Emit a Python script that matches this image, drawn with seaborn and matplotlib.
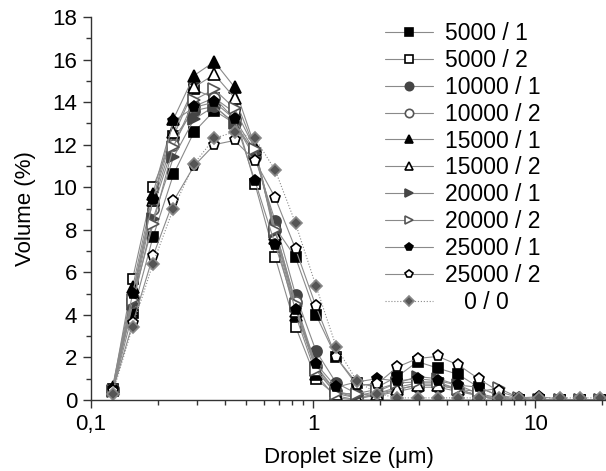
import numpy as np
import pandas as pd
import matplotlib
matplotlib.use("Agg")
import matplotlib.pyplot as plt
import seaborn as sns
from matplotlib.ticker import FixedLocator, FixedFormatter, NullFormatter

sns.set_style("ticks")
plt.rcParams['font.family'] = ['Liberation Sans', 'DejaVu Sans']
plt.rcParams['text.color'] = 'black'
plt.rcParams['axes.labelcolor'] = 'black'
plt.rcParams['xtick.color'] = 'black'
plt.rcParams['ytick.color'] = 'black'

sizes = [0.125, 0.154, 0.190, 0.235, 0.291, 0.359, 0.443, 0.547, 0.675, 0.833,
         1.03, 1.27, 1.57, 1.94, 2.39, 2.95, 3.64, 4.50, 5.55, 6.85,
         8.46, 10.4, 12.9, 15.9, 19.6]

labels = ["5000 / 1", "5000 / 2", "10000 / 1", "10000 / 2", "15000 / 1", "15000 / 2",
          "20000 / 1", "20000 / 2", "25000 / 1", "25000 / 2", "0 / 0"]

v_5000_1 = [0.4, 4.1, 7.65, 10.6, 12.6, 13.6, 13.0, 11.6, 8.1, 6.7, 4.0, 2.0, 0.8, 0.6, 1.1, 1.8, 1.5, 1.2, 0.6, 0.2, 0.0, 0.0, 0.0, 0.0, 0.0]
v_5000_2 = [0.5, 5.7, 10.0, 12.4, 14.6, 14.2, 13.5, 10.15, 6.7, 3.45, 1.0, 0.2, 0.0, 0.3, 0.6, 0.8, 0.8, 0.5, 0.2, 0.0, 0.0, 0.0, 0.0, 0.0, 0.0]
v_10000_1 = [0.5, 4.8, 9.2, 12.3, 13.6, 13.8, 13.0, 11.4, 8.4, 4.95, 2.3, 0.8, 0.3, 0.2, 0.4, 0.6, 0.6, 0.4, 0.2, 0.1, 0.0, 0.0, 0.0, 0.0, 0.0]
v_10000_2 = [0.5, 4.6, 9.0, 12.0, 13.8, 14.2, 13.2, 11.7, 8.0, 4.6, 1.6, 0.4, 0.1, 0.2, 0.5, 0.7, 0.7, 0.5, 0.2, 0.0, 0.0, 0.0, 0.0, 0.0, 0.0]
v_15000_1 = [0.6, 5.3, 9.7, 13.2, 15.25, 15.9, 14.7, 11.9, 7.6, 4.0, 1.2, 0.1, 0.0, 0.0, 0.0, 0.0, 0.0, 0.0, 0.0, 0.0, 0.0, 0.0, 0.0, 0.0, 0.0]
v_15000_2 = [0.5, 5.0, 9.4, 12.6, 14.7, 15.3, 14.2, 11.8, 7.8, 4.2, 1.4, 0.3, 0.1, 0.3, 0.5, 0.7, 0.7, 0.5, 0.2, 0.0, 0.0, 0.0, 0.0, 0.0, 0.0]
v_20000_1 = [0.4, 4.5, 8.5, 11.4, 13.2, 13.8, 13.0, 11.6, 7.9, 4.4, 1.5, 0.4, 0.2, 0.4, 0.8, 1.1, 1.0, 0.7, 0.3, 0.1, 0.0, 0.0, 0.0, 0.0, 0.0]
v_20000_2 = [0.4, 4.7, 8.25, 11.9, 14.1, 14.6, 13.7, 11.8, 8.0, 4.5, 1.4, 0.3, 0.3, 0.5, 0.8, 0.85, 0.85, 0.5, 0.4, 0.55, 0.1, 0.0, 0.0, 0.0, 0.0]
v_25000_1 = [0.5, 5.0, 9.4, 13.1, 13.75, 14.0, 13.2, 10.3, 7.3, 4.25, 1.7, 0.6, 0.85, 1.0, 0.9, 1.0, 0.9, 0.7, 0.6, 0.2, 0.1, 0.15, 0.05, 0.0, 0.0]
v_25000_2 = [0.4, 3.6, 6.75, 9.35, 11.0, 12.0, 12.2, 11.25, 9.5, 7.1, 4.4, 2.0, 0.7, 0.75, 1.55, 1.95, 2.05, 1.65, 1.0, 0.4, 0.1, 0.0, 0.0, 0.0, 0.0]
v_0_0 = [0.3, 3.45, 6.4, 9.0, 11.1, 12.3, 12.6, 12.3, 10.8, 8.3, 5.35, 2.5, 0.9, 0.3, 0.1, 0.1, 0.1, 0.1, 0.1, 0.1, 0.1, 0.1, 0.1, 0.1, 0.1]

series = [v_5000_1, v_5000_2, v_10000_1, v_10000_2, v_15000_1, v_15000_2,
          v_20000_1, v_20000_2, v_25000_1, v_25000_2, v_0_0]

styles = [
    dict(marker='s', mfc='black', mec='black', ls='-'),
    dict(marker='s', mfc='white', mec='black', ls='-'),
    dict(marker='o', mfc='#454545', mec='#454545', ls='-'),
    dict(marker='o', mfc='white', mec='#555555', ls='-'),
    dict(marker='^', mfc='black', mec='black', ls='-'),
    dict(marker='^', mfc='white', mec='black', ls='-'),
    dict(marker='>', mfc='#454545', mec='#454545', ls='-'),
    dict(marker='>', mfc='white', mec='#555555', ls='-'),
    dict(marker='p', mfc='black', mec='black', ls='-'),
    dict(marker='p', mfc='white', mec='black', ls='-'),
    dict(marker='D', mfc='#555555', mec='#888888', ls=':'),
]

fig = plt.figure(figsize=(6.06, 4.71), dpi=100)
ax = fig.add_axes([91/606, 1 - 400/471, 1 - 91/606, (400 - 17)/471])

for lab, vals, st in zip(labels, series, styles):
    df = pd.DataFrame({"size": sizes, "vol": vals})
    ms = 6.5 if st['marker'] == 'D' else 8
    if st['marker'] in ('s',):
        ms = 7
    sns.lineplot(data=df, x="size", y="vol", ax=ax, sort=False, errorbar=None,
                 color='#8a8a8a', linewidth=0.8, linestyle=st['ls'],
                 marker=st['marker'], markersize=ms,
                 markerfacecolor=st['mfc'], markeredgecolor=st['mec'],
                 markeredgewidth=1.2, label=lab)

ax.set_xscale('log')
ax.set_xlim(0.1, 20.8)
ax.set_ylim(0, 18)
ax.set_yticks(np.arange(0, 19, 2))
ax.yaxis.set_minor_locator(FixedLocator(np.arange(1, 18, 2)))
ax.xaxis.set_major_locator(FixedLocator([0.1, 1, 10]))
ax.xaxis.set_major_formatter(FixedFormatter(["0,1", "1", "10"]))
minors = [m * d for d in (0.1, 1, 10) for m in range(2, 10)]
ax.xaxis.set_minor_locator(FixedLocator(minors))
ax.xaxis.set_minor_formatter(NullFormatter())

for sp in ('top', 'right'):
    ax.spines[sp].set_visible(False)
for sp in ('left', 'bottom'):
    ax.spines[sp].set_color('#333333')
    ax.spines[sp].set_linewidth(1.0)

ax.tick_params(axis='both', which='major', length=6, width=1.0, color='#333333',
               labelsize=16, direction='out', pad=4)
ax.tick_params(axis='both', which='minor', length=3.5, width=1.0, color='#333333',
               direction='out')

ax.set_xlabel("Droplet size (\u03bcm)", fontsize=16, labelpad=9)
ax.set_ylabel("Volume (%)", fontsize=16, labelpad=12)

leg_labels = labels[:-1] + ["   0 / 0"]
handles, _ = ax.get_legend_handles_labels()
leg = ax.legend(handles, leg_labels, loc='upper left', bbox_to_anchor=(0.53, 1.041),
                frameon=False, fontsize=16.5, markerscale=0.75, handlelength=2.1,
                labelspacing=0.17, handletextpad=0.55)

fig.savefig("out.png", dpi=100)
